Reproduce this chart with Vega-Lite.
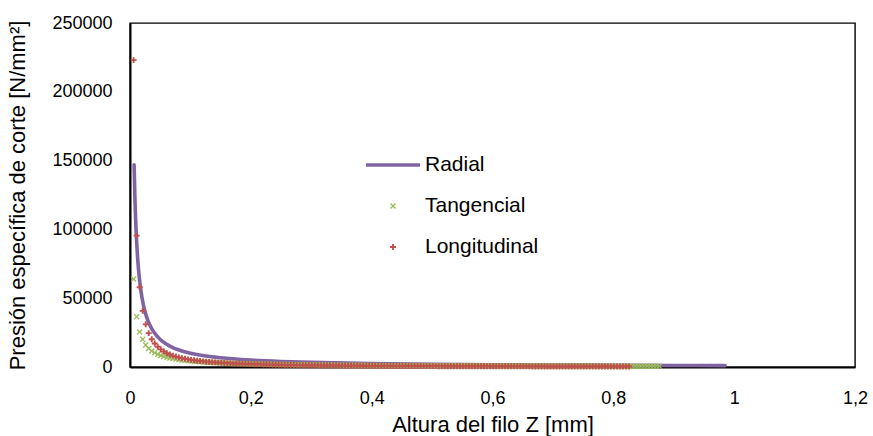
{
  "$schema": "https://vega.github.io/schema/vega-lite/v6.json",
  "width": 725,
  "height": 344,
  "autosize": {"type": "none"},
  "padding": {"left": 130, "top": 23, "right": 18, "bottom": 69},
  "background": "white",
  "config": {
    "font": "Liberation Sans",
    "view": {"stroke": "#000000", "strokeWidth": 1.4},
    "axis": {
      "grid": false,
      "ticks": false,
      "domain": true,
      "domainColor": "#000000",
      "domainWidth": 2,
      "labelFont": "Liberation Sans",
      "labelFontSize": 18,
      "labelColor": "#000000",
      "titleFont": "Liberation Sans",
      "titleFontSize": 22,
      "titleFontWeight": "normal",
      "titleColor": "#000000",
      "labelFlush": false,
      "labelOverlap": false
    }
  },
  "datasets": {
    "rad": [
      {"z": 0.0068, "p": 147000}, {"z": 0.008, "p": 125000}, {"z": 0.01, "p": 100000},
      {"z": 0.012, "p": 83300}, {"z": 0.014, "p": 71400}, {"z": 0.017, "p": 58800},
      {"z": 0.02, "p": 50000}, {"z": 0.025, "p": 40000}, {"z": 0.03, "p": 33300},
      {"z": 0.035, "p": 28600}, {"z": 0.04, "p": 25000}, {"z": 0.05, "p": 20000},
      {"z": 0.06, "p": 16700}, {"z": 0.07, "p": 14300}, {"z": 0.08, "p": 12500},
      {"z": 0.1, "p": 10000}, {"z": 0.12, "p": 8330}, {"z": 0.15, "p": 6670},
      {"z": 0.2, "p": 5000}, {"z": 0.25, "p": 4000}, {"z": 0.3, "p": 3330},
      {"z": 0.4, "p": 2500}, {"z": 0.5, "p": 2000}, {"z": 0.6, "p": 1670},
      {"z": 0.7, "p": 1430}, {"z": 0.8, "p": 1250}, {"z": 0.9, "p": 1110},
      {"z": 0.985, "p": 1015}
    ],
    "pts": [
      {"s":"T","z":0.006,"p":63900},{"s":"T","z":0.011,"p":36600},{"s":"T","z":0.016,"p":25500},{"s":"T","z":0.021,"p":20100},
      {"s":"T","z":0.026,"p":16000},{"s":"T","z":0.031,"p":13400},{"s":"T","z":0.036,"p":11650},{"s":"T","z":0.041,"p":10300},
      {"s":"T","z":0.046,"p":9220},{"s":"T","z":0.051,"p":8360},{"s":"T","z":0.056,"p":7650},{"s":"T","z":0.061,"p":7060},
      {"s":"T","z":0.066,"p":6550},{"s":"T","z":0.071,"p":6110},{"s":"T","z":0.076,"p":5730},{"s":"T","z":0.081,"p":5390},
      {"s":"T","z":0.086,"p":5090},{"s":"T","z":0.091,"p":4830},{"s":"T","z":0.096,"p":4580},{"s":"T","z":0.101,"p":4370},
      {"s":"T","z":0.106,"p":4170},{"s":"T","z":0.111,"p":3990},{"s":"T","z":0.116,"p":3830},{"s":"T","z":0.121,"p":3680},
      {"s":"T","z":0.126,"p":3540},{"s":"T","z":0.131,"p":3410},{"s":"T","z":0.136,"p":3290},{"s":"T","z":0.141,"p":3180},
      {"s":"T","z":0.146,"p":3080},{"s":"T","z":0.151,"p":2980},{"s":"T","z":0.156,"p":2890},{"s":"T","z":0.161,"p":2810},
      {"s":"T","z":0.166,"p":2730},{"s":"T","z":0.171,"p":2650},{"s":"T","z":0.176,"p":2580},{"s":"T","z":0.181,"p":2510},
      {"s":"T","z":0.186,"p":2450},{"s":"T","z":0.191,"p":2380},{"s":"T","z":0.196,"p":2330},{"s":"T","z":0.201,"p":2270},
      {"s":"T","z":0.206,"p":2220},{"s":"T","z":0.211,"p":2170},{"s":"T","z":0.216,"p":2120},{"s":"T","z":0.221,"p":2080},
      {"s":"T","z":0.226,"p":2030},{"s":"T","z":0.231,"p":1990},{"s":"T","z":0.236,"p":1950},{"s":"T","z":0.241,"p":1910},
      {"s":"T","z":0.246,"p":1880},{"s":"T","z":0.251,"p":1840},{"s":"T","z":0.256,"p":1810},{"s":"T","z":0.261,"p":1780},
      {"s":"T","z":0.266,"p":1750},{"s":"T","z":0.271,"p":1720},{"s":"T","z":0.276,"p":1690},{"s":"T","z":0.281,"p":1660},
      {"s":"T","z":0.286,"p":1630},{"s":"T","z":0.291,"p":1600},{"s":"T","z":0.296,"p":1580},{"s":"T","z":0.301,"p":1550},
      {"s":"T","z":0.306,"p":1530},{"s":"T","z":0.311,"p":1510},{"s":"T","z":0.316,"p":1490},{"s":"T","z":0.321,"p":1470},
      {"s":"T","z":0.326,"p":1450},{"s":"T","z":0.331,"p":1430},{"s":"T","z":0.336,"p":1405},{"s":"T","z":0.341,"p":1380},
      {"s":"T","z":0.346,"p":1360},{"s":"T","z":0.351,"p":1340},{"s":"T","z":0.356,"p":1325},{"s":"T","z":0.361,"p":1310},
      {"s":"T","z":0.366,"p":1295},{"s":"T","z":0.371,"p":1280},{"s":"T","z":0.376,"p":1265},{"s":"T","z":0.381,"p":1250},
      {"s":"T","z":0.386,"p":1235},{"s":"T","z":0.391,"p":1220},{"s":"T","z":0.396,"p":1200},{"s":"T","z":0.401,"p":1180},
      {"s":"T","z":0.406,"p":1170},{"s":"T","z":0.411,"p":1155},{"s":"T","z":0.416,"p":1145},{"s":"T","z":0.421,"p":1130},
      {"s":"T","z":0.426,"p":1120},{"s":"T","z":0.431,"p":1105},{"s":"T","z":0.436,"p":1095},{"s":"T","z":0.441,"p":1080},
      {"s":"T","z":0.446,"p":1070},{"s":"T","z":0.451,"p":1055},{"s":"T","z":0.456,"p":1045},{"s":"T","z":0.461,"p":1035},
      {"s":"T","z":0.466,"p":1025},{"s":"T","z":0.471,"p":1015},{"s":"T","z":0.476,"p":1005},{"s":"T","z":0.481,"p":995},
      {"s":"T","z":0.486,"p":985},{"s":"T","z":0.491,"p":975},{"s":"T","z":0.496,"p":965},{"s":"T","z":0.501,"p":955},
      {"s":"T","z":0.506,"p":945},{"s":"T","z":0.511,"p":938},{"s":"T","z":0.516,"p":930},{"s":"T","z":0.521,"p":922},
      {"s":"T","z":0.526,"p":914},{"s":"T","z":0.531,"p":906},{"s":"T","z":0.536,"p":898},{"s":"T","z":0.541,"p":890},
      {"s":"T","z":0.546,"p":880},{"s":"T","z":0.551,"p":872},{"s":"T","z":0.556,"p":865},{"s":"T","z":0.561,"p":858},
      {"s":"T","z":0.566,"p":851},{"s":"T","z":0.571,"p":844},{"s":"T","z":0.576,"p":837},{"s":"T","z":0.581,"p":830},
      {"s":"T","z":0.586,"p":823},{"s":"T","z":0.591,"p":816},{"s":"T","z":0.596,"p":810},{"s":"T","z":0.601,"p":803},
      {"s":"T","z":0.606,"p":797},{"s":"T","z":0.611,"p":791},{"s":"T","z":0.616,"p":785},{"s":"T","z":0.621,"p":779},
      {"s":"T","z":0.626,"p":773},{"s":"T","z":0.631,"p":767},{"s":"T","z":0.636,"p":761},{"s":"T","z":0.641,"p":755},
      {"s":"T","z":0.646,"p":750},{"s":"T","z":0.651,"p":744},{"s":"T","z":0.656,"p":739},{"s":"T","z":0.661,"p":734},
      {"s":"T","z":0.666,"p":729},{"s":"T","z":0.671,"p":724},{"s":"T","z":0.676,"p":719},{"s":"T","z":0.681,"p":714},
      {"s":"T","z":0.686,"p":709},{"s":"T","z":0.691,"p":704},{"s":"T","z":0.696,"p":699},{"s":"T","z":0.701,"p":694},
      {"s":"T","z":0.706,"p":690},{"s":"T","z":0.711,"p":685},{"s":"T","z":0.716,"p":681},{"s":"T","z":0.721,"p":676},
      {"s":"T","z":0.726,"p":672},{"s":"T","z":0.731,"p":668},{"s":"T","z":0.736,"p":663},{"s":"T","z":0.741,"p":659},
      {"s":"T","z":0.746,"p":655},{"s":"T","z":0.751,"p":650},{"s":"T","z":0.756,"p":646},{"s":"T","z":0.761,"p":642},
      {"s":"T","z":0.766,"p":638},{"s":"T","z":0.771,"p":634},{"s":"T","z":0.776,"p":630},{"s":"T","z":0.781,"p":627},
      {"s":"T","z":0.786,"p":623},{"s":"T","z":0.791,"p":619},{"s":"T","z":0.796,"p":615},{"s":"T","z":0.801,"p":611},
      {"s":"T","z":0.806,"p":608},{"s":"T","z":0.811,"p":604},{"s":"T","z":0.816,"p":601},{"s":"T","z":0.821,"p":597},
      {"s":"T","z":0.826,"p":594},{"s":"T","z":0.831,"p":590},{"s":"T","z":0.836,"p":587},{"s":"T","z":0.841,"p":584},
      {"s":"T","z":0.846,"p":580},{"s":"T","z":0.851,"p":577},{"s":"T","z":0.856,"p":574},{"s":"T","z":0.861,"p":570},
      {"s":"T","z":0.866,"p":567},{"s":"T","z":0.871,"p":564},{"s":"T","z":0.876,"p":561},
      {"s":"L","z":0.006,"p":223000},{"s":"L","z":0.011,"p":95500},{"s":"L","z":0.016,"p":58000},{"s":"L","z":0.021,"p":40800},
      {"s":"L","z":0.026,"p":31000},{"s":"L","z":0.031,"p":24600},{"s":"L","z":0.036,"p":20200},{"s":"L","z":0.041,"p":17100},
      {"s":"L","z":0.046,"p":14700},{"s":"L","z":0.051,"p":12800},{"s":"L","z":0.056,"p":11300},{"s":"L","z":0.061,"p":10100},
      {"s":"L","z":0.066,"p":9120},{"s":"L","z":0.071,"p":8270},{"s":"L","z":0.076,"p":7570},{"s":"L","z":0.081,"p":6960},
      {"s":"L","z":0.086,"p":6420},{"s":"L","z":0.091,"p":5970},{"s":"L","z":0.096,"p":5550},{"s":"L","z":0.101,"p":5190},
      {"s":"L","z":0.106,"p":4880},{"s":"L","z":0.111,"p":4590},{"s":"L","z":0.116,"p":4330},{"s":"L","z":0.121,"p":4100},
      {"s":"L","z":0.126,"p":3880},{"s":"L","z":0.131,"p":3690},{"s":"L","z":0.136,"p":3500},{"s":"L","z":0.141,"p":3340},
      {"s":"L","z":0.146,"p":3200},{"s":"L","z":0.151,"p":3060},{"s":"L","z":0.156,"p":2930},{"s":"L","z":0.161,"p":2810},
      {"s":"L","z":0.166,"p":2700},{"s":"L","z":0.171,"p":2590},{"s":"L","z":0.176,"p":2500},{"s":"L","z":0.181,"p":2410},
      {"s":"L","z":0.186,"p":2320},{"s":"L","z":0.191,"p":2240},{"s":"L","z":0.196,"p":2160},{"s":"L","z":0.201,"p":2100},
      {"s":"L","z":0.206,"p":2030},{"s":"L","z":0.211,"p":1970},{"s":"L","z":0.216,"p":1900},{"s":"L","z":0.221,"p":1850},
      {"s":"L","z":0.226,"p":1790},{"s":"L","z":0.231,"p":1740},{"s":"L","z":0.236,"p":1700},{"s":"L","z":0.241,"p":1650},
      {"s":"L","z":0.246,"p":1600},{"s":"L","z":0.251,"p":1560},{"s":"L","z":0.256,"p":1520},{"s":"L","z":0.261,"p":1480},
      {"s":"L","z":0.266,"p":1450},{"s":"L","z":0.271,"p":1410},{"s":"L","z":0.276,"p":1380},{"s":"L","z":0.281,"p":1340},
      {"s":"L","z":0.286,"p":1310},{"s":"L","z":0.291,"p":1280},{"s":"L","z":0.296,"p":1250},{"s":"L","z":0.301,"p":1230},
      {"s":"L","z":0.306,"p":1200},{"s":"L","z":0.311,"p":1170},{"s":"L","z":0.316,"p":1150},{"s":"L","z":0.321,"p":1120},
      {"s":"L","z":0.326,"p":1100},{"s":"L","z":0.331,"p":1080},{"s":"L","z":0.336,"p":1060},{"s":"L","z":0.341,"p":1040},
      {"s":"L","z":0.346,"p":1020},{"s":"L","z":0.351,"p":1000},{"s":"L","z":0.356,"p":985},{"s":"L","z":0.361,"p":965},
      {"s":"L","z":0.366,"p":950},{"s":"L","z":0.371,"p":930},{"s":"L","z":0.376,"p":915},{"s":"L","z":0.381,"p":900},
      {"s":"L","z":0.386,"p":885},{"s":"L","z":0.391,"p":870},{"s":"L","z":0.396,"p":855},{"s":"L","z":0.401,"p":840},
      {"s":"L","z":0.406,"p":830},{"s":"L","z":0.411,"p":815},{"s":"L","z":0.416,"p":805},{"s":"L","z":0.421,"p":790},
      {"s":"L","z":0.426,"p":780},{"s":"L","z":0.431,"p":770},{"s":"L","z":0.436,"p":755},{"s":"L","z":0.441,"p":745},
      {"s":"L","z":0.446,"p":735},{"s":"L","z":0.451,"p":720},{"s":"L","z":0.456,"p":710},{"s":"L","z":0.461,"p":700},
      {"s":"L","z":0.466,"p":690},{"s":"L","z":0.471,"p":680},{"s":"L","z":0.476,"p":670},{"s":"L","z":0.481,"p":660},
      {"s":"L","z":0.486,"p":650},{"s":"L","z":0.491,"p":640},{"s":"L","z":0.496,"p":635},{"s":"L","z":0.501,"p":625},
      {"s":"L","z":0.506,"p":620},{"s":"L","z":0.511,"p":610},{"s":"L","z":0.516,"p":600},{"s":"L","z":0.521,"p":595},
      {"s":"L","z":0.526,"p":585},{"s":"L","z":0.531,"p":580},{"s":"L","z":0.536,"p":570},{"s":"L","z":0.541,"p":565},
      {"s":"L","z":0.546,"p":560},{"s":"L","z":0.551,"p":555},{"s":"L","z":0.556,"p":545},{"s":"L","z":0.561,"p":540},
      {"s":"L","z":0.566,"p":535},{"s":"L","z":0.571,"p":530},{"s":"L","z":0.576,"p":520},{"s":"L","z":0.581,"p":515},
      {"s":"L","z":0.586,"p":510},{"s":"L","z":0.591,"p":505},{"s":"L","z":0.596,"p":500},{"s":"L","z":0.601,"p":495},
      {"s":"L","z":0.606,"p":490},{"s":"L","z":0.611,"p":485},{"s":"L","z":0.616,"p":480},{"s":"L","z":0.621,"p":475},
      {"s":"L","z":0.626,"p":470},{"s":"L","z":0.631,"p":465},{"s":"L","z":0.636,"p":460},{"s":"L","z":0.641,"p":455},
      {"s":"L","z":0.646,"p":450},{"s":"L","z":0.651,"p":445},{"s":"L","z":0.656,"p":440},{"s":"L","z":0.661,"p":435},
      {"s":"L","z":0.666,"p":430},{"s":"L","z":0.671,"p":428},{"s":"L","z":0.676,"p":425},{"s":"L","z":0.681,"p":420},
      {"s":"L","z":0.686,"p":415},{"s":"L","z":0.691,"p":410},{"s":"L","z":0.696,"p":408},{"s":"L","z":0.701,"p":404},
      {"s":"L","z":0.706,"p":400},{"s":"L","z":0.711,"p":396},{"s":"L","z":0.716,"p":392},{"s":"L","z":0.721,"p":388},
      {"s":"L","z":0.726,"p":385},{"s":"L","z":0.731,"p":381},{"s":"L","z":0.736,"p":378},{"s":"L","z":0.741,"p":375},
      {"s":"L","z":0.746,"p":372},{"s":"L","z":0.751,"p":369},{"s":"L","z":0.756,"p":366},{"s":"L","z":0.761,"p":362},
      {"s":"L","z":0.766,"p":359},{"s":"L","z":0.771,"p":356},{"s":"L","z":0.776,"p":353},{"s":"L","z":0.781,"p":350},
      {"s":"L","z":0.786,"p":348},{"s":"L","z":0.791,"p":345},{"s":"L","z":0.796,"p":342},{"s":"L","z":0.801,"p":339},
      {"s":"L","z":0.806,"p":336},{"s":"L","z":0.811,"p":333},{"s":"L","z":0.816,"p":330},{"s":"L","z":0.821,"p":327},
      {"s":"L","z":0.826,"p":324}
    ]
  },
  "layer": [
    {
      "data": {"name": "rad"},
      "mark": {"type": "line", "color": "#8064A2", "strokeWidth": 3.6, "interpolate": "monotone", "strokeCap": "round"},
      "encoding": {
        "x": {"field": "z", "type": "quantitative"},
        "y": {"field": "p", "type": "quantitative"}
      }
    },
    {
      "data": {"name": "pts"},
      "mark": {"type": "point", "filled": true, "strokeWidth": 0, "opacity": 1},
      "encoding": {
        "x": {
          "field": "z",
          "type": "quantitative",
          "scale": {"domain": [0, 1.2], "nice": false, "zero": true},
          "axis": {
            "values": [0, 0.2, 0.4, 0.6, 0.8, 1, 1.2],
            "labelExpr": "replace(format(datum.value, '.1~f'), '.', ',')",
            "labelPadding": 22,
            "title": "Altura del filo Z [mm]",
            "titlePadding": 7
          }
        },
        "y": {
          "field": "p",
          "type": "quantitative",
          "scale": {"domain": [0, 250000], "nice": false},
          "axis": {
            "values": [0, 50000, 100000, 150000, 200000, 250000],
            "format": "d",
            "labelPadding": 18,
            "title": "Presión específica de corte [N/mm²]",
            "titlePadding": 22
          }
        },
        "size": {"value": 2916},
        "color": {
          "field": "s",
          "type": "nominal",
          "sort": null,
          "scale": {"domain": ["R", "T", "L"], "range": ["#8064A2", "#9BBB59", "#C0504D"]},
          "legend": {
            "title": null,
            "orient": "none",
            "legendX": 236,
            "legendY": 132,
            "padding": 0,
            "symbolSize": 2916,
            "symbolStrokeWidth": 0,
            "clipHeight": 20,
            "rowPadding": 20,
            "labelOffset": 5,
            "labelFont": "Liberation Sans",
            "labelFontSize": 21,
            "labelColor": "#000000",
            "labelExpr": "datum.label == 'R' ? 'Radial' : datum.label == 'T' ? 'Tangencial' : 'Longitudinal'"
          }
        },
        "shape": {
          "field": "s",
          "type": "nominal",
          "sort": null,
          "scale": {
            "domain": ["R", "T", "L"],
            "range": [
              "M-1,-0.062L1,-0.062L1,0.062L-1,0.062Z",
              "M-0.11,-0.075L-0.075,-0.11L0,-0.035L0.075,-0.11L0.11,-0.075L0.035,0L0.11,0.075L0.075,0.11L0,0.035L-0.075,0.11L-0.11,0.075L-0.035,0Z",
              "M-0.035,-0.11L0.035,-0.11L0.035,-0.035L0.11,-0.035L0.11,0.035L0.035,0.035L0.035,0.11L-0.035,0.11L-0.035,0.035L-0.11,0.035L-0.11,-0.035L-0.035,-0.035Z"
            ]
          },
          "legend": {
            "title": null,
            "orient": "none",
            "legendX": 236,
            "legendY": 132,
            "padding": 0,
            "symbolSize": 2916,
            "symbolStrokeWidth": 0,
            "clipHeight": 20,
            "rowPadding": 20,
            "labelOffset": 5,
            "labelFont": "Liberation Sans",
            "labelFontSize": 21,
            "labelColor": "#000000",
            "labelExpr": "datum.label == 'R' ? 'Radial' : datum.label == 'T' ? 'Tangencial' : 'Longitudinal'"
          }
        }
      }
    }
  ]
}
